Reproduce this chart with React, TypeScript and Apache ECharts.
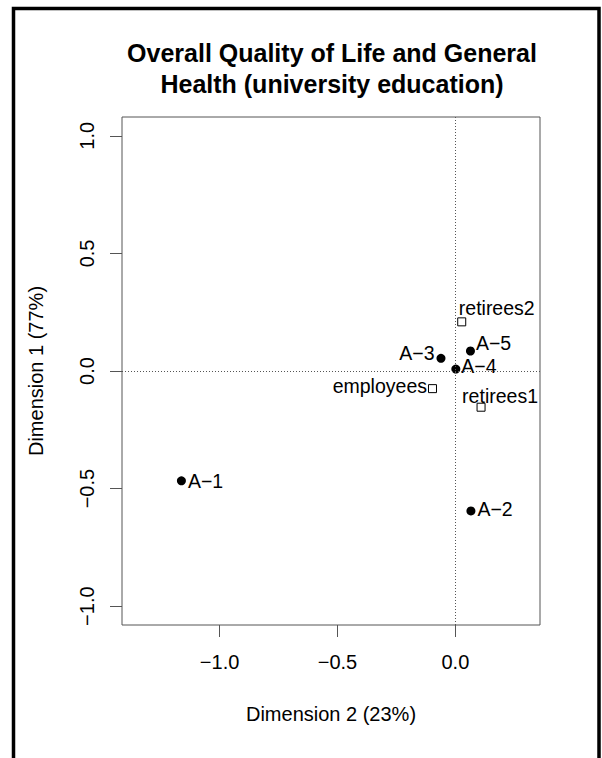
import React, { useEffect, useRef } from "react";
import * as echarts from "echarts";

const pointNames = ["A\u22121", "A\u22122", "A\u22123", "A\u22124", "A\u22125"];
const pointX = [-1.162, 0.066, -0.061, 0.002, 0.064];
const pointY = [-0.467, -0.595, 0.054, 0.008, 0.085];

const groupNames = ["employees", "retirees1", "retirees2"];
const groupX = [-0.097, 0.109, 0.027];
const groupY = [-0.075, -0.154, 0.209];

const xTicks = [-1.0, -0.5, 0.0];
const yTicks = [-1.0, -0.5, 0.0, 0.5, 1.0];

const titleText = "Overall Quality of Life and General\nHealth (university education)";
const xName = "Dimension 2 (23%)";
const yName = "Dimension 1 (77%)";

const FONT = "Liberation Sans, Arial, Helvetica, sans-serif";

const labelStyle: Record<string, any> = {
  "A\u22121": { position: "right", distance: 2, offset: [0, 0] },
  "A\u22122": { position: "right", distance: 2, offset: [0, -2] },
  "A\u22123": { position: "left", distance: 2, offset: [0, -5] },
  "A\u22124": { position: "right", distance: 1, offset: [0, -3] },
  "A\u22125": { position: "right", distance: 1, offset: [0, -8] },
  employees: { position: "left", distance: 1, offset: [0, -3] },
  retirees1: { position: "inside", offset: [19, -11] },
  retirees2: { position: "inside", offset: [35, -14] },
};

const fmt = (v: number) => (v < 0 ? "\u2212" : "") + Math.abs(v).toFixed(1);

export default function App() {
  const ref = useRef<HTMLDivElement>(null);
  useEffect(() => {
    document.body.style.margin = "0";
    const chart = echarts.init(ref.current!, null, { renderer: "svg" });
    const lbl = (name: string) => ({
      show: true,
      formatter: name,
      color: "#000",
      fontSize: 19.5,
      fontFamily: FONT,
      ...labelStyle[name],
    });
    const axisCommon = {
      type: "value",
      nameLocation: "middle",
      nameTextStyle: { fontSize: 20, fontFamily: FONT, color: "#000" },
      axisLine: { show: false, onZero: false },
      splitLine: { show: false },
    };
    chart.setOption({
      animation: false,
      backgroundColor: "#fff",
      title: {
        text: titleText,
        left: 327,
        top: 32,
        textAlign: "center",
        textStyle: {
          fontSize: 25,
          fontWeight: "bold",
          fontFamily: FONT,
          color: "#000",
          lineHeight: 31,
        },
      },
      graphic: [
        {
          type: "rect",
          shape: { x: 13.5, y: 8.5, width: 585.5, height: 800 },
          style: { fill: "none", stroke: "#000", lineWidth: 3.5 },
          silent: true,
        },
      ],
      grid: {
        left: 122,
        top: 117,
        width: 418,
        height: 508,
        show: true,
        borderColor: "#555",
        borderWidth: 1,
        backgroundColor: "transparent",
      },
      xAxis: {
        ...axisCommon,
        min: -1.414,
        max: 0.359,
        name: xName,
        nameGap: 79,
        axisTick: {
          show: true,
          inside: false,
          length: 12,
          lineStyle: { color: "#555" },
          customValues: xTicks,
        },
        axisLabel: {
          customValues: xTicks,
          formatter: (v: number) => fmt(v),
          fontSize: 20,
          fontFamily: FONT,
          color: "#000",
          margin: 27,
        },
      },
      yAxis: {
        ...axisCommon,
        min: -1.08,
        max: 1.08,
        name: yName,
        nameRotate: 90,
        nameGap: 76,
        axisTick: {
          show: true,
          inside: false,
          length: 12,
          lineStyle: { color: "#555" },
          customValues: yTicks,
        },
        axisLabel: {
          customValues: yTicks,
          formatter: (v: number) => fmt(v),
          rotate: 90,
          fontSize: 20,
          fontFamily: FONT,
          color: "#000",
          margin: 25,
        },
      },
      series: [
        {
          type: "scatter",
          name: "categories",
          symbol: "circle",
          symbolSize: 9,
          itemStyle: { color: "#000", opacity: 1 },
          data: pointNames.map((n, i) => ({
            name: n,
            value: [pointX[i], pointY[i]],
            label: lbl(n),
          })),
          markLine: {
            silent: true,
            symbol: "none",
            label: { show: false },
            lineStyle: { color: "#555", type: [1, 2], width: 1 },
            data: [{ xAxis: 0 }, { yAxis: 0 }],
          },
          z: 3,
        },
        {
          type: "scatter",
          name: "groups",
          symbol: "rect",
          symbolSize: 8,
          itemStyle: { color: "#fff", borderColor: "#000", borderWidth: 1, opacity: 1 },
          data: groupNames.map((n, i) => ({
            name: n,
            value: [groupX[i], groupY[i]],
            label: lbl(n),
          })),
          z: 3,
        },
      ],
    });
    return () => chart.dispose();
  }, []);
  return <div ref={ref} style={{ width: 602, height: 758 }} />;
}
